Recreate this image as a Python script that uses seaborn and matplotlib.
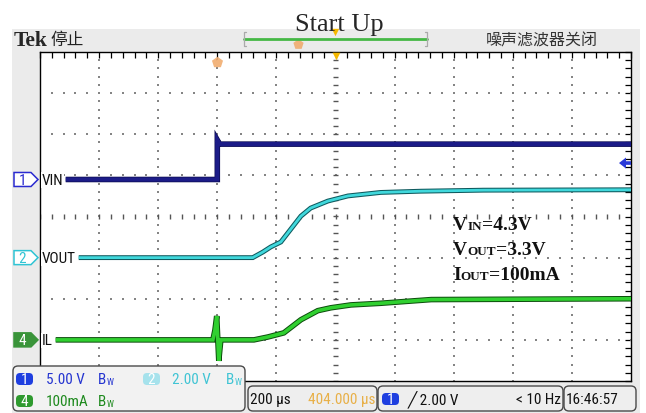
import numpy as np
import pandas as pd
import matplotlib
matplotlib.use("Agg")
import matplotlib.pyplot as plt
import matplotlib.patheffects as pe
from matplotlib.patches import FancyBboxPatch, Rectangle, Polygon
from matplotlib.ticker import MultipleLocator
from matplotlib import font_manager
import seaborn as sns

# Horizontal: 200 us/div, 10 divisions, trigger 3 div from the left edge
time_per_div = 200.0
t_start, t_stop = -600.0, 1400.0

# Vertical scales (per division) and channel ground offsets (divisions)
ch1_scale, ch1_offset = 5.0, 0.9      # V/div
ch2_scale, ch2_offset = 2.0, -1.0     # V/div
ch4_scale, ch4_offset = 100.0, -3.0   # mA/div
trig_level = 2.0                      # V on CH1

# CH1 - VIN (V)
vin_t = [-513, 0, 0, 8, 1400]
vin_v = [0.0, 0.0, 4.8, 4.3, 4.3]

# CH2 - VOUT (V)
vout_t = [-469, 120, 154, 181, 215, 249, 283, 316, 374, 442, 553, 688, 900, 1400]
vout_v = [0.0, 0.0, 0.27, 0.52, 0.76, 1.39, 2.02, 2.41, 2.75, 3.0, 3.17, 3.23, 3.28, 3.3]

# CH4 - IL (mA)
il_t = [-547, -15, -8, -2, 5, 12, 124, 171, 225, 283, 340, 384, 452, 553, 724, 1400]
il_ma = [0, 0, 24, 58, -51, 0, 0, 7, 17, 49, 71, 78, 85, 89, 98, 100]

sns.set_style("white")
names = {f.name for f in font_manager.fontManager.ttflist}
NARROW = next((n for n in ["Liberation Sans Narrow", "Roboto Condensed", "Arial Narrow",
                           "Liberation Sans"] if n in names), "DejaVu Sans")
SERIF = "Liberation Serif"
CJK = "Noto Sans CJK SC"
plt.rcParams["font.family"] = [NARROW, "DejaVu Sans"]
FS = 9.5 if NARROW == "Liberation Sans" else 11

W, H = 646, 414
PL, PT, PR, PB = 40, 53, 631, 382

fig = plt.figure(figsize=(W / 100, H / 100), dpi=100)
fig.patch.set_facecolor("white")

back = fig.add_axes([0, 0, 1, 1], zorder=0)
back.set_xlim(0, W); back.set_ylim(H, 0); back.axis("off")
back.add_patch(Rectangle((12, 30), 628, 384, color="#ebebeb", lw=0))

ax = fig.add_axes([PL / W, 1 - PB / H, (PR - PL) / W, (PB - PT) / H], zorder=2)
ax.set_facecolor("white")
ax.set_xlim(t_start, t_stop)
ax.set_ylim(-4, 4)

front = fig.add_axes([0, 0, 1, 1], zorder=5)
front.set_xlim(0, W); front.set_ylim(H, 0); front.axis("off")
front.patch.set_alpha(0)


def lvl_px(level):
    return PT + (4 - level) * (PB - PT) / 8


def t_px(t):
    return PL + (t - t_start) / (t_stop - t_start) * (PR - PL)


# ---- graticule ----
major_t = np.arange(t_start, t_stop + 1, time_per_div)
minor_t = np.arange(t_start, t_stop + 1, time_per_div / 5)
major_y = np.arange(-4, 5, 1.0)
minor_y = np.arange(-4, 4.01, 0.2)
t_center = (t_start + t_stop) / 2
dot = dict(s=2.2, marker="s", color="#858585", linewidths=0, zorder=1)
for tm in major_t[1:-1]:
    if tm == t_center:
        continue
    ax.scatter(np.full_like(minor_y, tm), minor_y, **dot)
for ym in major_y[1:-1]:
    if ym == 0:
        continue
    ax.scatter(minor_t, np.full_like(minor_t, ym), **dot)
ax.vlines(minor_t, -0.07, 0.07, color="#555555", lw=1.0, zorder=1)
ax.hlines(minor_y, t_center - 9, t_center + 9, color="#555555", lw=1.0, zorder=1)

ax.xaxis.set_major_locator(MultipleLocator(time_per_div))
ax.xaxis.set_minor_locator(MultipleLocator(time_per_div / 5))
ax.yaxis.set_major_locator(MultipleLocator(1))
ax.yaxis.set_minor_locator(MultipleLocator(0.2))
ax.tick_params(which="both", direction="in", top=True, right=True, length=4,
               width=0.9, color="black", labelbottom=False, labelleft=False)
for sp in ax.spines.values():
    sp.set_color("black"); sp.set_linewidth(1.0)

# ---- traces ----
traces = [
    (vin_t, vin_v, ch1_scale, ch1_offset, "#1c1c88", 3.0, "#0b0b50", 4.0),
    (vout_t, vout_v, ch2_scale, ch2_offset, "#40d8dc", 2.0, "#0f5a5e", 3.5),
    (il_t, il_ma, ch4_scale, ch4_offset, "#30d030", 2.6, "#0c4c0c", 4.0),
]
for t, v, scale, offset, col, lw, edge, elw in traces:
    df = pd.DataFrame({"t": t, "div": offset + np.asarray(v, float) / scale})
    sns.lineplot(data=df, x="t", y="div", ax=ax, color=col, lw=lw,
                 estimator=None, sort=False, legend=False, zorder=3)
    ax.lines[-1].set_path_effects([pe.Stroke(linewidth=elw, foreground=edge), pe.Normal()])
    ax.lines[-1].set_solid_capstyle("butt")
    ax.lines[-1].set_solid_joinstyle("miter")
ax.set_xlabel(""); ax.set_ylabel("")

# trigger level arrow at the right edge
ty = lvl_px(ch1_offset + trig_level / ch1_scale)
front.add_patch(Polygon([(619, ty), (626, ty - 5.5), (626, ty - 1.8), (631, ty - 1.8),
                         (631, ty + 1.8), (626, ty + 1.8), (626, ty + 5.5)],
                        closed=True, facecolor="#2a3ad8", edgecolor="none", zorder=6))

# trigger position / expansion markers
tx0 = t_px(0)
front.scatter([tx0], [63], marker="p", s=70, color="#f0a868", alpha=0.85, zorder=6, linewidths=0)
front.text(tx0, 63, "T", color="white", fontsize=5, ha="center", va="center", weight="bold")
front.scatter([t_px(t_center)], [57], marker="v", s=30, color="#f5b800", linewidths=0)

# ---- header ----
front.text(14, 46, "Tek", family=SERIF, weight="bold", fontsize=15.5, va="baseline")
front.text(50, 40, "停止", family=CJK, fontsize=12, va="center", color="#222222")
front.text(598, 41, "噪声滤波器关闭", family=CJK, fontsize=11.5, va="center", ha="right",
           color="#333333")
front.plot([244, 427], [40, 40], color="#45b845", lw=2.0)
for bx, d in [(244, 2), (427, -2)]:
    front.plot([bx + d, bx, bx, bx + d], [33, 33, 47, 47], color="#aaaaaa", lw=0.9)
front.scatter([298], [45], marker="p", s=60, color="#f0a868", alpha=0.85, linewidths=0)
front.scatter([335], [33], marker="v", s=28, color="#f5b800", linewidths=0)
front.text(339, 31, "Start Up", family=SERIF, fontsize=19, ha="center", va="baseline")

# ---- channel ground markers ----
markers = [
    ("1", ch1_offset, "VIN", "white", "#2a2ad0", "#2a2ad0"),
    ("2", ch2_offset, "VOUT", "white", "#30c4d4", "#30c4d4"),
    ("4", ch4_offset, "IL", "#3a943a", "#3a943a", "white"),
]
for num, off, name, face, edge, tcol in markers:
    cy = lvl_px(off)
    front.add_patch(Polygon([(14, cy - 7), (31, cy - 7), (38, cy), (31, cy + 7), (14, cy + 7)],
                            closed=True, facecolor=face, edgecolor=edge, lw=1.1))
    front.text(22, cy + 0.5, num, color=tcol, fontsize=FS, ha="center", va="center")
    front.text(42, cy + 0.5, name, color="#111111", fontsize=FS, ha="left", va="center",
               bbox=dict(facecolor="white", edgecolor="none", pad=0.5))

# ---- test-condition notes ----
def rich(x, y, parts, **kw):
    t = front.text(x, y, parts[0][0], fontsize=parts[0][1], va="baseline", **kw)
    for s, size in parts[1:]:
        t = front.annotate(s, xy=(1, y), xycoords=(t, "data"), va="baseline",
                           fontsize=size, **kw)
    return t

note = dict(family=SERIF, weight="bold", color="#111111")
rich(453, 230, [("V", 14), ("IN", 9.5), ("=4.3V", 14)], **note)
rich(453, 255, [("V", 14), ("OUT", 9.5), ("=3.3V", 14)], **note)
rich(453, 280, [("I", 14), ("OUT", 9.5), ("=100mA", 14)], **note)

# ---- status boxes ----
def box(x0, y0, x1, y1, face="#eeeeee"):
    front.add_patch(FancyBboxPatch((x0, y0), x1 - x0, y1 - y0,
                                   boxstyle="round,pad=0,rounding_size=5",
                                   facecolor=face, edgecolor="#4a4a4a", lw=1.0, zorder=7))


def badge(x, y, num, face):
    front.add_patch(FancyBboxPatch((x, y - 6), 17, 12, boxstyle="round,pad=0,rounding_size=4",
                                   facecolor=face, edgecolor="none", zorder=8))
    front.text(x + 8.5, y + 0.5, num, color="white", fontsize=FS, ha="center", va="center",
               zorder=9)


def bw(x, y, col):
    b = front.text(x, y, "B", color=col, fontsize=FS, va="center", zorder=9)
    front.annotate("W", xy=(1, y + 3), xycoords=(b, "data"), color=col, fontsize=FS * 0.6,
                   va="center", zorder=9)


box(13, 367, 245, 412, face="#f2f2f2")
badge(16, 380, "1", "#1f3fe0")
front.text(46, 380, "5.00 V", color="#2535d0", fontsize=FS, va="center", zorder=9)
bw(98, 380, "#2535d0")
badge(143, 380, "2", "#a6e2ec")
front.text(172, 380, "2.00 V", color="#40c4d4", fontsize=FS, va="center", zorder=9)
bw(226, 380, "#40c4d4")
badge(16, 402, "4", "#2f9a2f")
front.text(46, 402, "100mA", color="#1e8a1e", fontsize=FS, va="center", zorder=9)
bw(98, 402, "#1e8a1e")

box(248, 387, 377, 412)
front.text(250, 400, "200 μs", color="#111111", fontsize=FS, va="center", zorder=9)
front.text(375, 400, "404.000 μs", color="#e8b048", fontsize=FS, va="center", ha="right",
           zorder=9)

box(378, 387, 563, 412)
badge(382, 400, "1", "#1f3fe0")
front.text(408, 400, "╱ 2.00 V", color="#111111", fontsize=FS, va="center", zorder=9)
front.text(561, 400, "< 10 Hz", color="#111111", fontsize=FS, va="center", ha="right", zorder=9)

box(564, 387, 636, 412)
front.text(566, 400, "16:46:57", color="#111111", fontsize=FS, va="center", zorder=9)

fig.savefig("out.png", dpi=100)
